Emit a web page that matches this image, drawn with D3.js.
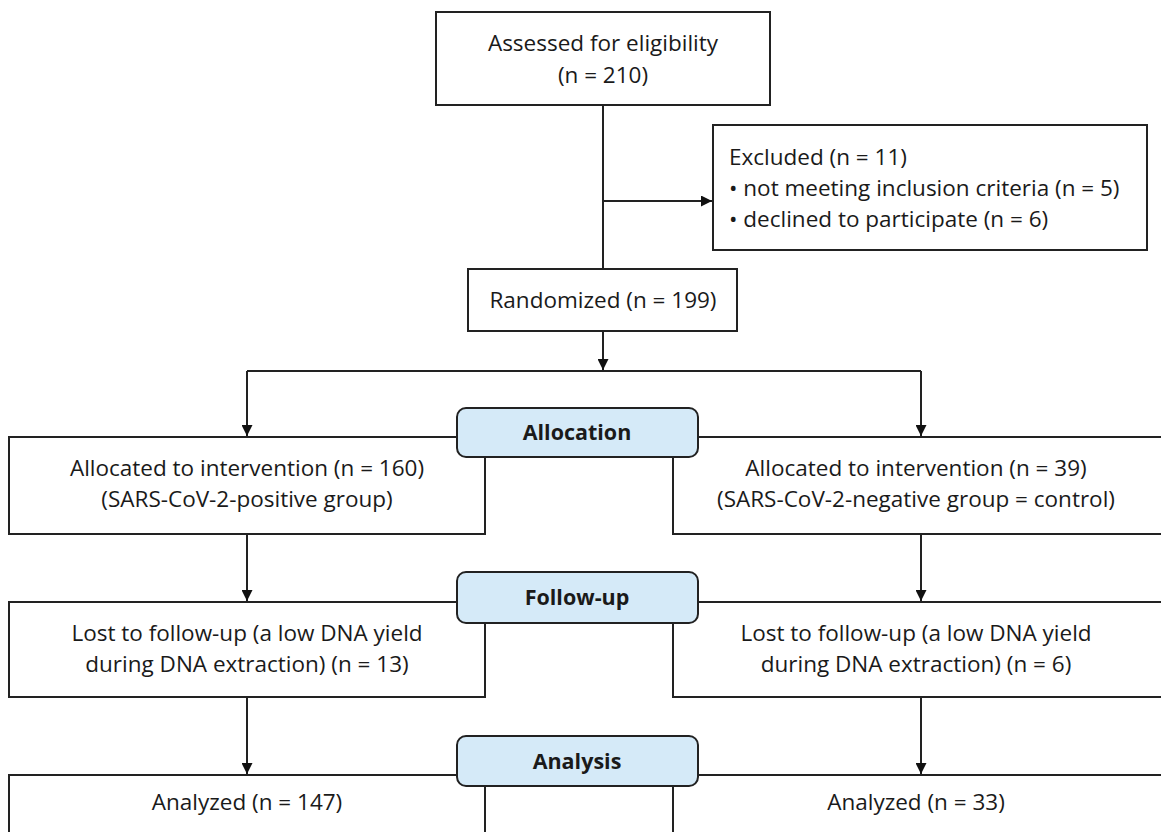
<!DOCTYPE html>
<html>
<head>
<meta charset="utf-8">
<script src="https://cdn.jsdelivr.net/npm/d3@7"></script>
<style>
  body { margin: 0; background: #fff; }
  text { font-family: "Open Sans", "Noto Sans", sans-serif; fill: #1a1a1a; }
</style>
</head>
<body>
<div id="chart"></div>
<script>
// flow texts
const topLines = ["Assessed for eligibility", "(n = 210)"];
const excludedLines = ["Excluded (n = 11)", "\u2022 not meeting inclusion criteria (n = 5)", "\u2022 declined to participate (n = 6)"];
const randomLines = ["Randomized (n = 199)"];
const stageLabels = ["Allocation", "Follow-up", "Analysis"];
const leftLines = [
  ["Allocated to intervention (n = 160)", "(SARS-CoV-2-positive group)"],
  ["Lost to follow-up (a low DNA yield", "during DNA extraction) (n = 13)"],
  ["Analyzed (n = 147)"]
];
const rightLines = [
  ["Allocated to intervention (n = 39)", "(SARS-CoV-2-negative group = control)"],
  ["Lost to follow-up (a low DNA yield", "during DNA extraction) (n = 6)"],
  ["Analyzed (n = 33)"]
];

const W = 1161, H = 832;
const stroke = "#222";
const fs = 22.5;
const svg = d3.select("#chart").append("svg").attr("width", W).attr("height", H);

svg.append("defs").append("marker")
  .attr("id", "arr").attr("viewBox", "0 0 10 10")
  .attr("refX", 10).attr("refY", 5)
  .attr("markerWidth", 11).attr("markerHeight", 11)
  .attr("markerUnits", "userSpaceOnUse")
  .attr("orient", "auto")
  .append("path").attr("d", "M0,0 L10,5 L0,10 Z").attr("fill", "#111");

function box(x, y, w, h) {
  svg.append("rect").attr("x", x).attr("y", y).attr("width", w).attr("height", h)
    .attr("fill", "#fff").attr("stroke", stroke).attr("stroke-width", 2);
}
function lines(arr, x, yc, anchor, gap) {
  const n = arr.length;
  arr.forEach((t, i) => {
    svg.append("text").attr("x", x).attr("y", yc + (i - (n - 1) / 2) * gap)
      .attr("dy", "0.35em").attr("text-anchor", anchor)
      .attr("font-size", fs).text(t);
  });
}
function arrow(x1, y1, x2, y2, head) {
  const l = svg.append("line").attr("x1", x1).attr("y1", y1).attr("x2", x2).attr("y2", y2)
    .attr("stroke", stroke).attr("stroke-width", 2);
  if (head) l.attr("marker-end", "url(#arr)");
}

const cx = 603;
const colL = 247, colR = 921;

// top section
arrow(cx, 105, cx, 269, false);
arrow(cx, 201, 712, 201, true);
box(436, 12, 334, 93);
lines(topLines, cx, 59, "middle", 32);
box(713, 125, 434, 125);
lines(excludedLines, 729, 188, "start", 31);
box(468, 269, 269, 62);
lines(randomLines, cx, 300, "middle", 31);
arrow(cx, 331, cx, 370, true);
arrow(colL, 371, colR, 371, false);

// stage rows
const rows = [
  { top: 437, h: 97, label: [408, 457] },
  { top: 602, h: 95, label: [572, 623] },
  { top: 775, h: 80, label: [736, 786] }
];
const prevBottom = [371, 534, 697];

rows.forEach((r, i) => {
  arrow(colL, prevBottom[i], colL, r.top - 1, true);
  arrow(colR, prevBottom[i], colR, r.top - 1, true);
  box(9, r.top, 476, r.h);
  box(673, r.top, 490, r.h);
  const yc = i < 2 ? r.top + 47 : r.top + 27;
  lines(leftLines[i], colL, yc, "middle", 31);
  lines(rightLines[i], 916, yc, "middle", 31);
  svg.append("rect").attr("x", 457).attr("y", r.label[0])
    .attr("width", 241).attr("height", r.label[1] - r.label[0])
    .attr("rx", 9).attr("fill", "#d5eaf8").attr("stroke", stroke).attr("stroke-width", 2);
  svg.append("text").attr("x", 577).attr("y", (r.label[0] + r.label[1]) / 2)
    .attr("dy", "0.35em").attr("text-anchor", "middle")
    .attr("font-size", 21.5).attr("font-weight", "bold").text(stageLabels[i]);
});
</script>
</body>
</html>
